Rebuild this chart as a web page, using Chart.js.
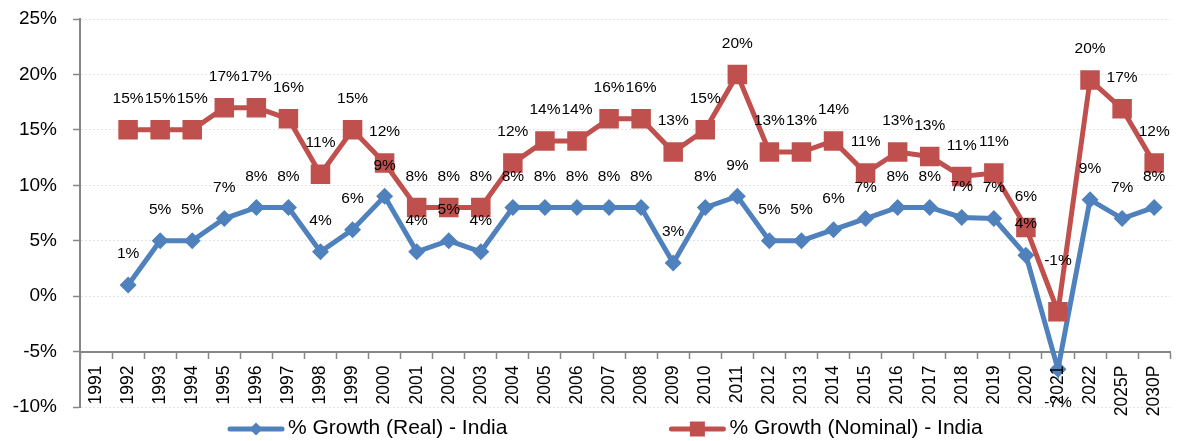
<!DOCTYPE html>
<html>
<head>
<meta charset="utf-8">
<script src="https://cdn.jsdelivr.net/npm/chart.js@4/dist/chart.umd.min.js"></script>
<style>
html,body{margin:0;padding:0;background:#fff;overflow:hidden}
#wrap{position:relative;width:1184px;height:441px}
</style>
</head>
<body>
<div id="wrap"><canvas id="c" width="1184" height="441"></canvas></div>
<script>
// ---- data ----
const categories = ['1991','1992','1993','1994','1995','1996','1997','1998','1999','2000',
  '2001','2002','2003','2004','2005','2006','2007','2008','2009','2010',
  '2011','2012','2013','2014','2015','2016','2017','2018','2019','2020',
  '2021','2022','2025P','2030P'];
const realGrowth = [null,1,5,5,7,8,8,4,6,9,
  4,5,4,8,8,8,8,8,3,8,
  9,5,5,6,7,8,8,7.1,7.0,3.7,
  -6.6,8.7,7.0,8.0];
const nominalGrowth = [null,15,15,15,17,17,16,11,15,12,
  8,8,8,12,14,14,16,16,13,15,
  20,13,13,14,11.1,13,12.6,10.8,11.1,6.2,
  -1.4,19.5,16.9,12.0];
const seriesNames = ['% Growth (Real) - India', '% Growth (Nominal) - India'];
const yTicks = {min: -10, max: 25, step: 5};

const FONT = '"Liberation Sans", Arial, sans-serif';
const BLUE = '#4F81BD';
const RED = '#C0504D';
const AXIS = '#868686';

const labelPlugin = {
  id: 'pointLabels',
  afterDatasetsDraw(chart, args, opts) {
    const ctx = chart.ctx;
    ctx.save();
    ctx.font = opts.font;
    ctx.fillStyle = opts.color;
    ctx.textAlign = 'center';
    ctx.textBaseline = 'middle';
    chart.data.datasets.forEach((ds, di) => {
      const meta = chart.getDatasetMeta(di);
      meta.data.forEach((pt, i) => {
        const v = ds.data[i];
        if (v === null || v === undefined) return;
        let off = opts.offset;
        if (v < opts.axisValue) off = -opts.offsetBelow;
        const ex = opts.exceptions[di];
        if (ex && ex[i] !== undefined) off = ex[i];
        ctx.fillText(Math.round(v) + '%', pt.x, pt.y - off);
      });
    });
    ctx.restore();
  }
};

const legendPlugin = {
  id: 'lineLegend',
  afterDraw(chart, args, opts) {
    const ctx = chart.ctx;
    ctx.save();
    ctx.font = opts.font;
    ctx.textAlign = 'left';
    ctx.textBaseline = 'middle';
    let x = opts.left;
    chart.data.datasets.forEach((ds, di) => {
      const y = opts.y;
      ctx.strokeStyle = ds.borderColor;
      ctx.fillStyle = ds.borderColor;
      ctx.lineWidth = opts.lineWidth;
      ctx.lineCap = 'round';
      ctx.beginPath();
      ctx.moveTo(x + 2, y);
      ctx.lineTo(x + opts.symbolWidth - 2, y);
      ctx.stroke();
      const cx = x + opts.symbolWidth / 2;
      ctx.beginPath();
      if (ds.pointStyle === 'rectRot') {
        const r = opts.diamondR;
        ctx.moveTo(cx, y - r); ctx.lineTo(cx + r, y); ctx.lineTo(cx, y + r); ctx.lineTo(cx - r, y);
        ctx.closePath();
      } else {
        const s = opts.squareS;
        ctx.rect(cx - s / 2, y - s / 2, s, s);
      }
      ctx.fill();
      ctx.fillStyle = '#000';
      const tx = x + opts.symbolWidth + opts.textGap;
      ctx.fillText(ds.label, tx, opts.textY);
      x = tx + ctx.measureText(ds.label).width + opts.itemGap;
    });
    ctx.restore();
  }
};

new Chart(document.getElementById('c'), {
  type: 'line',
  data: {
    labels: categories,
    datasets: [
      {
        label: seriesNames[0],
        data: realGrowth,
        borderColor: BLUE,
        backgroundColor: BLUE,
        borderWidth: 5,
        pointStyle: 'rectRot',
        pointRadius: 8.5,
        pointBorderWidth: 0,
        pointBackgroundColor: BLUE,
        tension: 0,
        order: 1
      },
      {
        label: seriesNames[1],
        data: nominalGrowth,
        borderColor: RED,
        backgroundColor: RED,
        borderWidth: 5,
        pointStyle: 'rect',
        pointRadius: 13.8,
        pointBorderWidth: 0,
        pointBackgroundColor: RED,
        tension: 0,
        order: 0
      }
    ]
  },
  options: {
    responsive: false,
    animation: false,
    devicePixelRatio: 1,
    layout: {padding: {left: 0, right: 7, top: 19, bottom: 34}},
    plugins: {
      legend: {display: false},
      tooltip: {enabled: false},
      pointLabels: {
        font: '15.5px ' + FONT,
        color: '#000',
        offset: 31,
        offsetBelow: 33,
        axisValue: -5,
        exceptions: {1: {30: 51}}
      },
      lineLegend: {
        font: '21px ' + FONT,
        left: 228,
        y: 429,
        textY: 428,
        symbolWidth: 56,
        textGap: 4,
        itemGap: 162,
        lineWidth: 5,
        diamondR: 6.5,
        squareS: 15
      }
    },
    scales: {
      x: {
        type: 'category',
        position: {y: -5},
        offset: true,
        afterFit(scale) { scale.paddingLeft = 0; scale.paddingRight = 0; },
        grid: {
          display: true,
          offset: true,
          drawOnChartArea: false,
          drawTicks: true,
          tickLength: 6,
          tickColor: AXIS,
          tickWidth: 1.5
        },
        border: {display: true, color: AXIS, width: 2},
        ticks: {
          z: 1,
          autoSkip: false,
          minRotation: 90,
          maxRotation: 90,
          padding: 8,
          color: '#000',
          font: {family: FONT, size: 17.5}
        }
      },
      y: {
        min: yTicks.min,
        max: yTicks.max,
        afterFit(scale) { scale.width = 80; scale.paddingTop = 0; scale.paddingBottom = 0; },
        grid: {
          color: '#e4e4e4',
          lineWidth: 1,
          drawTicks: true,
          tickLength: 7,
          tickColor: AXIS,
          tickWidth: 1.5,
          tickBorderDash: []
        },
        border: {display: true, color: AXIS, width: 2, dash: [2, 2]},
        ticks: {
          stepSize: yTicks.step,
          padding: 16,
          color: '#000',
          font: {family: FONT, size: 19},
          callback: (v) => v + '%'
        }
      }
    }
  },
  plugins: [labelPlugin, legendPlugin]
});
</script>
</body>
</html>
